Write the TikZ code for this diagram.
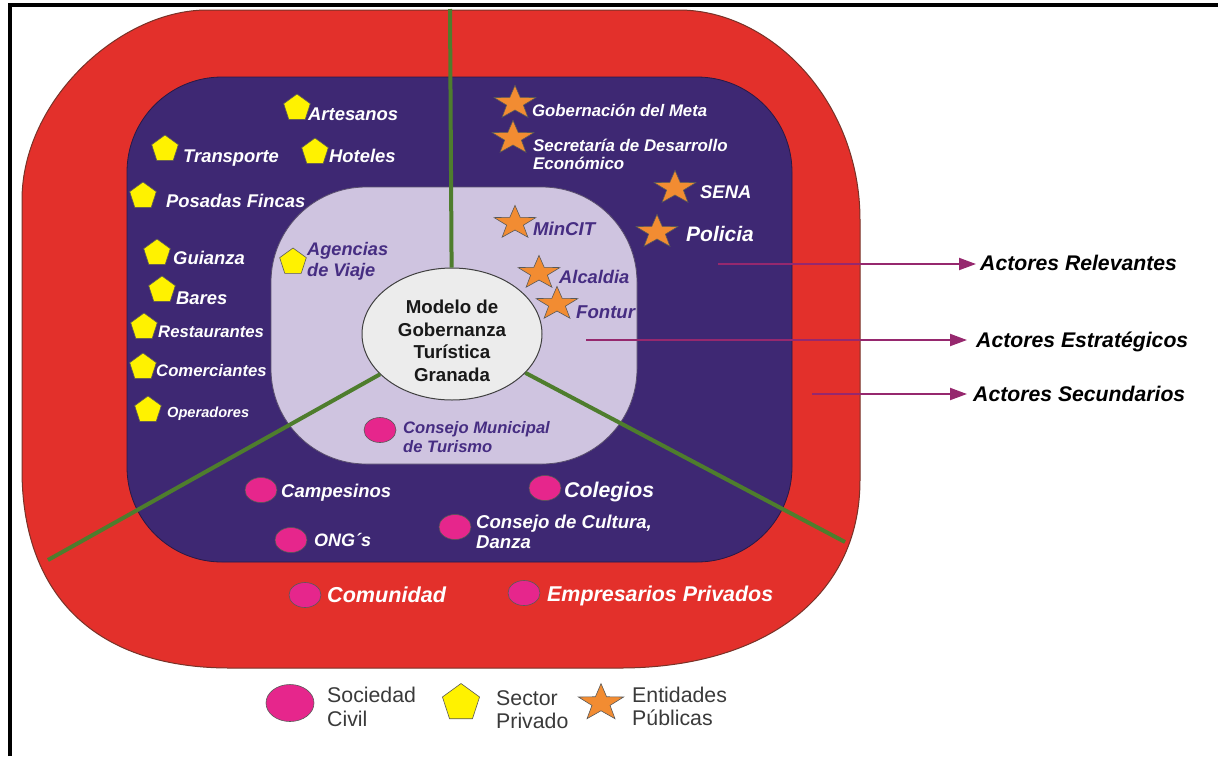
\documentclass[tikz,border=0pt]{standalone}
\usepackage{fontspec}
\setmainfont{Liberation Sans}
\usetikzlibrary{shapes.geometric,arrows.meta}
\newcommand\fsz[1]{\fontsize{#1pt}{#1pt}\selectfont}
\newcommand\fszl[2]{\fontsize{#1pt}{#2pt}\selectfont}
\definecolor{cred}{RGB}{227,48,43}
\definecolor{credline}{RGB}{120,50,40}
\definecolor{cpurple}{RGB}{62,40,115}
\definecolor{cpurpleline}{RGB}{40,25,70}
\definecolor{clav}{RGB}{207,196,224}
\definecolor{clavline}{RGB}{90,80,110}
\definecolor{ccore}{RGB}{236,236,236}
\definecolor{cgreen}{RGB}{78,125,45}
\definecolor{cyellow}{RGB}{255,242,0}
\definecolor{corange}{RGB}{242,140,50}
\definecolor{cpink}{RGB}{230,38,140}
\definecolor{carrow}{RGB}{150,40,110}
\definecolor{ptext}{RGB}{70,45,130}
\definecolor{legtext}{RGB}{58,58,58}
\begin{document}
\begin{tikzpicture}[x=1pt,y=-1pt,
  lbl/.style={anchor=base west, inner sep=0pt, text=white, font=\bfseries\itshape\fsz{18.4}},
  plbl/.style={lbl, text=ptext},
  albl/.style={lbl, text=black, font=\bfseries\itshape\fsz{21.2}},
  leg/.style={anchor=base west, inner sep=0pt, text=legtext, font=\fsz{21.3}},
  pent/.style={regular polygon, regular polygon sides=5, minimum size=28pt, inner sep=0pt, fill=cyellow, draw=black!65, line width=0.6pt},
  starnode/.style={star, star points=5, star point ratio=2.5, minimum size=40pt, inner sep=0pt, fill=corange, draw=black!65, line width=0.6pt, xscale=1.1, yscale=0.88, transform shape},
  dotnode/.style={ellipse, minimum width=32pt, minimum height=25pt, inner sep=0pt, fill=cpink, draw=black!65, line width=0.6pt},
  greenline/.style={draw=cgreen, line width=4pt},
  arrowline/.style={draw=carrow, line width=2pt, -{Triangle[length=17pt,width=12pt]}},
  corenode/.style={ellipse, minimum width=180pt, minimum height=132pt, inner sep=0pt, fill=ccore, draw=black!75, line width=1pt},
  coretext/.style={inner sep=0pt, align=center, font=\bfseries\fszl{18.7}{22.5}, text=black!90}
]
\useasboundingbox (0,0) rectangle (1218,756);
\fill[white] (0,0) rectangle (1218,756);
% frame
\draw[line width=4pt, black] (9.8,756) -- (9.8,5.3) -- (1218,5.3);
% outer red region
\filldraw[fill=cred, draw=credline, line width=1pt] (207,10) -- (679,10) .. controls (770,10) and (860,100) .. (860,220) -- (860,480) .. controls (860,600) and (760,668) .. (620,668) -- (230,668) .. controls (90,668) and (22,590) .. (22,470) -- (22,200) .. controls (22,100) and (120,10) .. (207,10) -- cycle;
% purple region
\filldraw[fill=cpurple, draw=cpurpleline, line width=0.8pt, rounded corners=95pt] (127,77) rectangle (792,562);
% lavender region
\filldraw[fill=clav, draw=clavline, line width=0.8pt, rounded corners=95pt] (271,187) rectangle (637,464);
% core
\node[corenode] (core) at (452,334) {};
\node[coretext] (coreT) at (452,341) {Modelo de\\Gobernanza\\Turística\\Granada};
\coordinate (gt) at (450,9);
\coordinate (gl) at (48,560);
\coordinate (gr) at (845,542);
\draw[greenline] (core) -- (gt);
\draw[greenline] (core) -- (gl);
\draw[greenline] (core) -- (gr);
% private sector
\node[pent] (pArt) at (297,108) {};
\node[lbl] (tArt) at (308,120) {Artesanos};
\node[pent] (pTra) at (165,149) {};
\node[lbl] (tTra) at (183,162) {Transporte};
\node[pent] (pHot) at (315,152) {};
\node[lbl] (tHot) at (329,162) {Hoteles};
\node[pent] (pPos) at (143,196) {};
\node[lbl] (tPos) at (166,207) {Posadas Fincas};
\node[pent] (pGui) at (157,253) {};
\node[lbl] (tGui) at (173,264) {Guianza};
\node[pent] (pBar) at (162,290) {};
\node[lbl] (tBar) at (176,304) {Bares};
\node[pent] (pRes) at (144,327) {};
\node[lbl, font=\bfseries\itshape\fsz{16.7}] (tRes) at (158,337) {Restaurantes};
\node[pent] (pCom) at (143,367) {};
\node[lbl, font=\bfseries\itshape\fsz{16.7}] (tCom) at (156,376) {Comerciantes};
\node[pent] (pOpe) at (148,410) {};
\node[lbl, font=\bfseries\itshape\fsz{14.6}] (tOpe) at (167,417) {Operadores};
\node[pent] (pAge) at (293,262) {};
\node[plbl, font=\bfseries\itshape\fsz{18.2}] (tAgeA) at (307,255) {Agencias};
\node[plbl, font=\bfseries\itshape\fsz{18.2}] (tAgeB) at (307,276) {de Viaje};
% public entities
\node[starnode] (sGob) at (515,103) {};
\node[lbl, font=\bfseries\itshape\fsz{16.75}] (tGob) at (532,116) {Gobernación del Meta};
\node[starnode] (sSec) at (513,138) {};
\node[lbl, font=\bfseries\itshape\fsz{16.9}] (tSecA) at (533,151) {Secretaría de Desarrollo};
\node[lbl, font=\bfseries\itshape\fsz{16.9}] (tSecB) at (533,169) {Económico};
\node[starnode] (sSENA) at (675,188) {};
\node[lbl] (tSENA) at (700,198) {SENA};
\node[starnode] (sPol) at (657,232) {};
\node[lbl, font=\bfseries\itshape\fsz{21}] (tPol) at (686,241) {Policia};
\node[starnode] (sMin) at (515,223) {};
\node[plbl, font=\bfseries\itshape\fsz{18.6}] (tMin) at (533,235) {MinCIT};
\node[starnode] (sAlc) at (539,273) {};
\node[plbl, font=\bfseries\itshape\fsz{18.3}] (tAlc) at (559,283) {Alcaldia};
\node[starnode] (sFon) at (557,304) {};
\node[plbl, font=\bfseries\itshape\fsz{18.6}] (tFon) at (576,318) {Fontur};
% civil society
\node[dotnode] (dCMT) at (380,430) {};
\node[plbl, font=\bfseries\itshape\fsz{16.6}] (tCMTA) at (403,433) {Consejo Municipal};
\node[plbl, font=\bfseries\itshape\fsz{16.6}] (tCMTB) at (403,452) {de Turismo};
\node[dotnode] (dCam) at (261,490) {};
\node[lbl, font=\bfseries\itshape\fsz{18.5}] (tCam) at (281,497) {Campesinos};
\node[dotnode] (dCol) at (545,488) {};
\node[lbl, font=\bfseries\itshape\fsz{21.3}] (tCol) at (564,497) {Colegios};
\node[dotnode] (dONG) at (291,540) {};
\node[lbl, font=\bfseries\itshape\fsz{18}] (tONG) at (314,546) {ONG´s};
\node[dotnode] (dCCD) at (455,527) {};
\node[lbl, font=\bfseries\itshape\fsz{18.6}] (tCCDA) at (476,528) {Consejo de Cultura,};
\node[lbl, font=\bfseries\itshape\fsz{18.6}] (tCCDB) at (476,548) {Danza};
\node[dotnode] (dComu) at (305,595) {};
\node[lbl, font=\bfseries\itshape\fsz{21.6}] (tComu) at (327,602) {Comunidad};
\node[dotnode] (dEmp) at (524,593) {};
\node[lbl, font=\bfseries\itshape\fsz{21.4}] (tEmp) at (547,601) {Empresarios Privados};
% actor levels
\node[albl] (tRel) at (980,270) {Actores Relevantes};
\node[albl] (tEst) at (976,347) {Actores Estratégicos};
\node[albl] (tSecu) at (973,401) {Actores Secundarios};
\coordinate (a1) at (718,264);
\coordinate (a2) at (586,340);
\coordinate (a3) at (812,394);
\draw[arrowline, shorten >=4pt] (a1) -- (a1 -| tRel.west);
\draw[arrowline, shorten >=9pt] (a2) -- (a2 -| tEst.west);
\draw[arrowline, shorten >=6pt] (a3) -- (a3 -| tSecu.west);
% legend
\node[dotnode, minimum width=48pt, minimum height=37pt] (lgC) at (290,703) {};
\node[leg] (lgCA) at (327,702) {Sociedad};
\node[leg] (lgCB) at (327,726) {Civil};
\node[pent, minimum size=39pt] (lgP) at (461,703) {};
\node[leg] (lgPA) at (496,705) {Sector};
\node[leg] (lgPB) at (496,728) {Privado};
\node[starnode, minimum size=44pt, xscale=0.982] (lgS) at (601,703) {};
\node[leg] (lgSA) at (632,702) {Entidades};
\node[leg] (lgSB) at (632,725) {Públicas};
\end{tikzpicture}
\end{document}
